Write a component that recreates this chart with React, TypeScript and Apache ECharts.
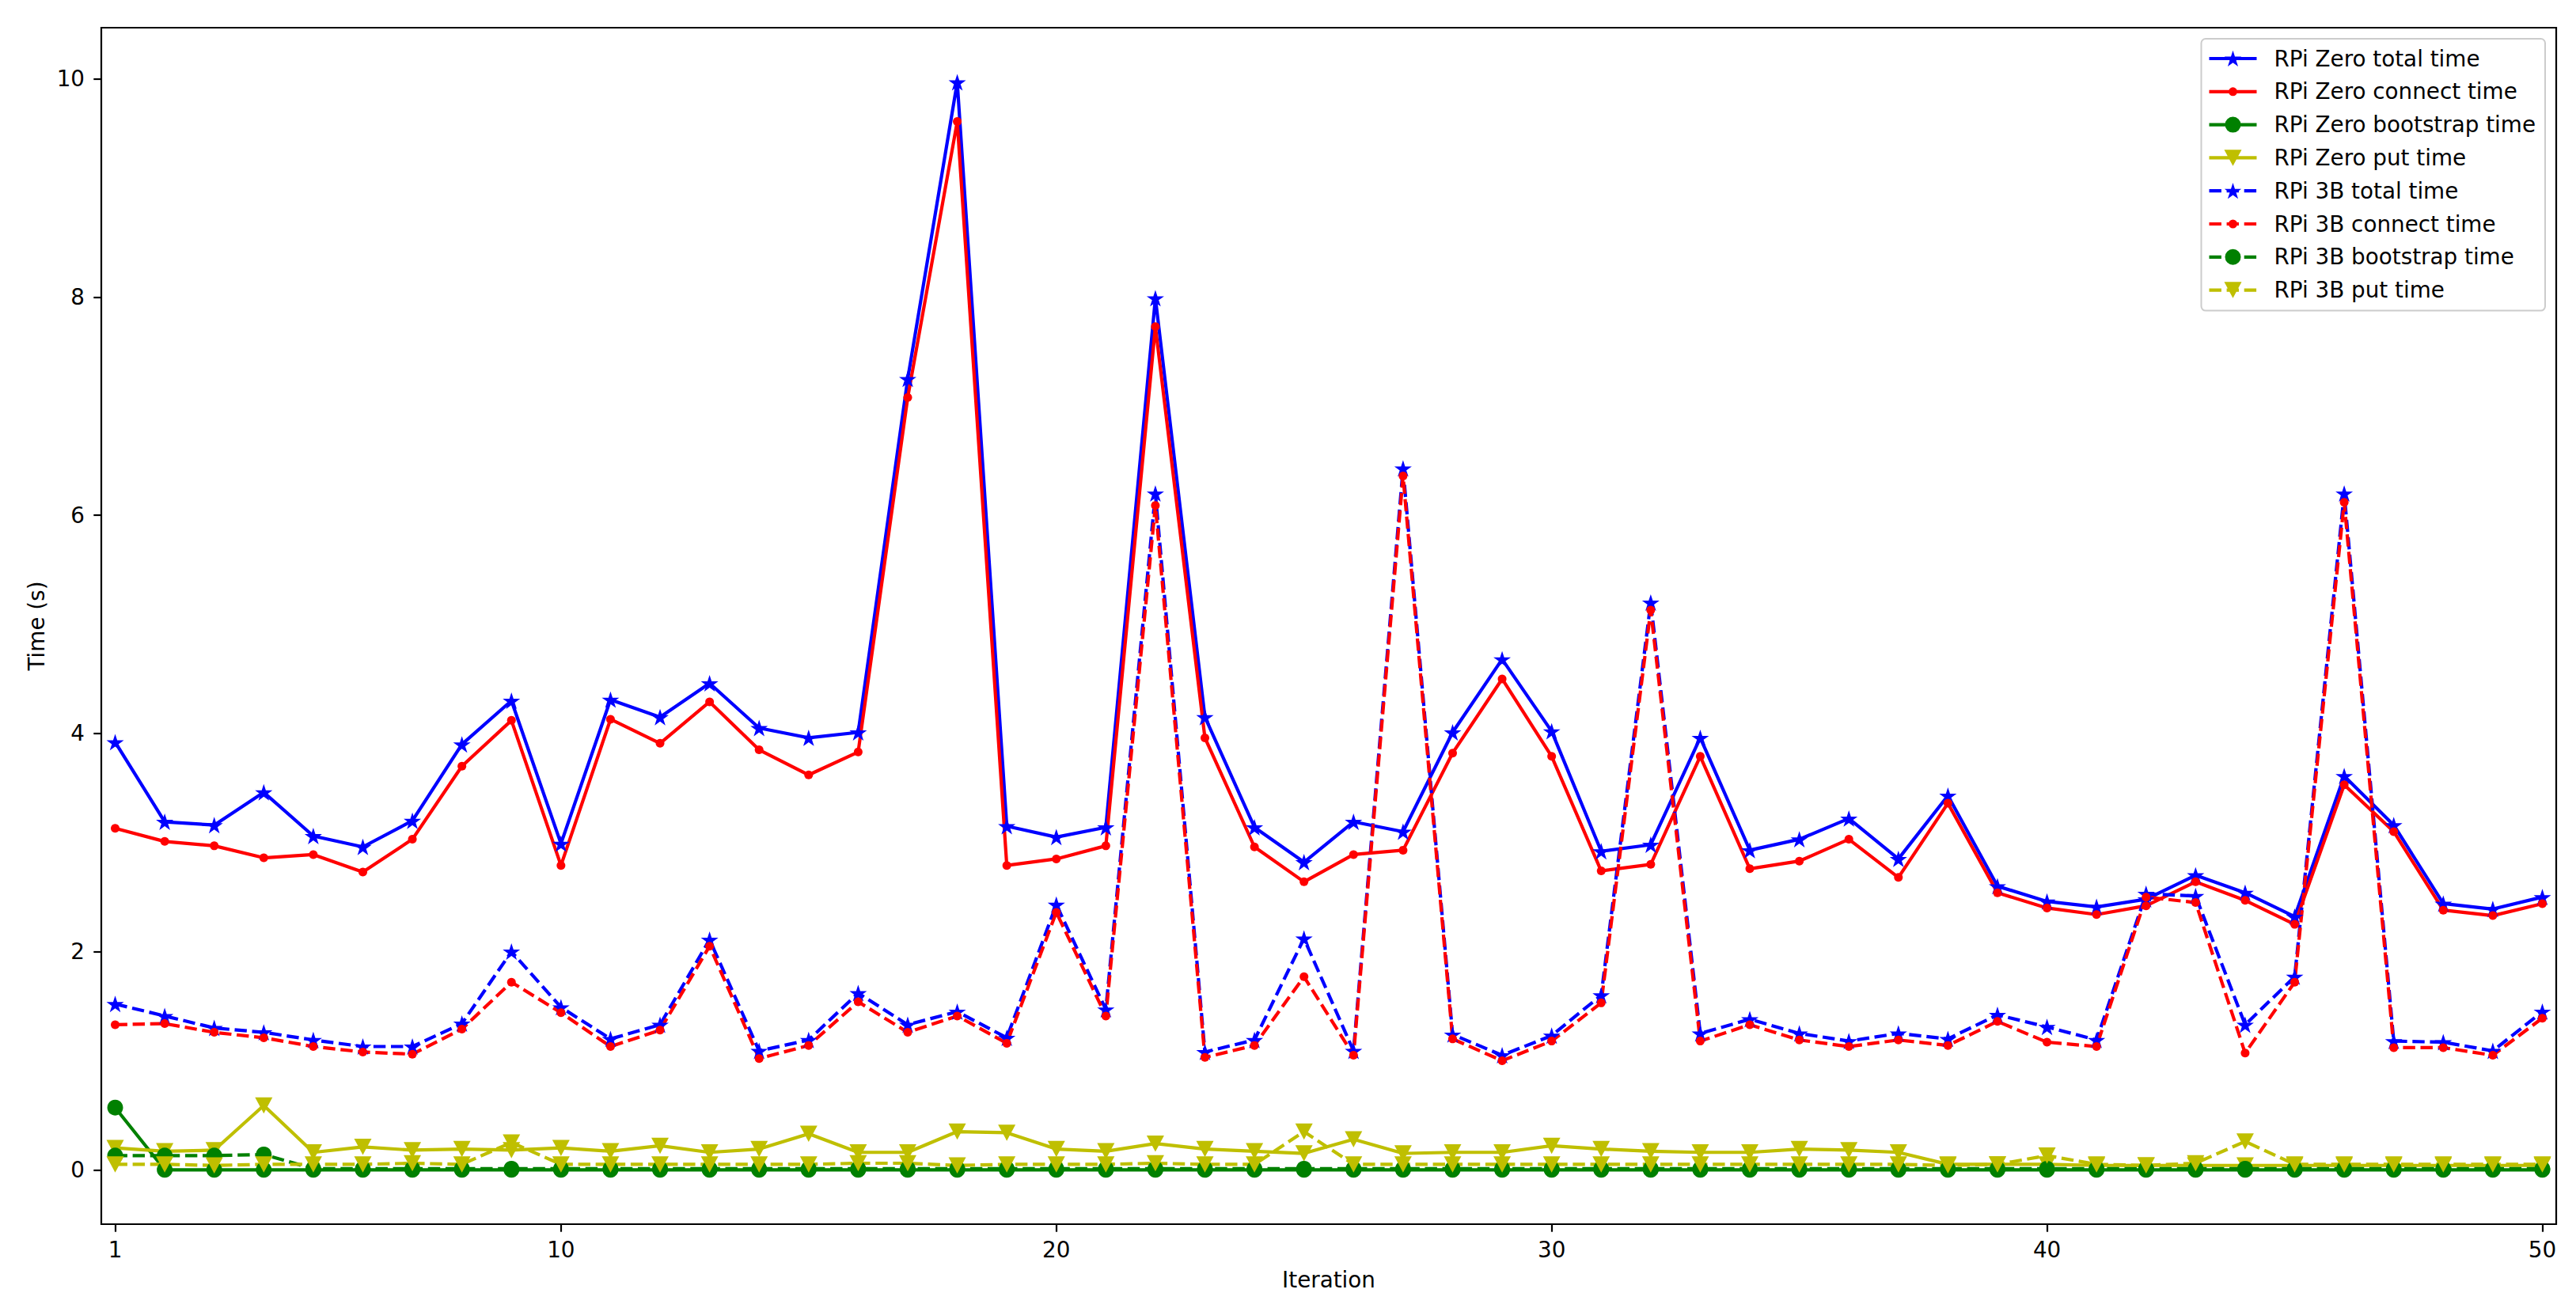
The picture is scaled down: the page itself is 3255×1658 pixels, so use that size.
import React, { useEffect, useRef } from "react";
import * as echarts from "echarts";

// ---------- data ----------
const iterations = [
  1, 2, 3, 4, 5, 6, 7, 8, 9, 10, 11, 12, 13, 14, 15, 16, 17, 18, 19, 20, 21, 22, 23, 24, 25,
  26, 27, 28, 29, 30, 31, 32, 33, 34, 35, 36, 37, 38, 39, 40, 41, 42, 43, 44, 45, 46, 47, 48, 49, 50,
];

const zeroTotal = [
  3.92, 3.19, 3.16, 3.46, 3.06, 2.96, 3.2, 3.9, 4.3, 2.99, 4.31, 4.15, 4.46, 4.05, 3.96, 4.01, 7.25, 9.97, 3.15, 3.05,
  3.14, 7.99, 4.15, 3.14, 2.82, 3.19, 3.1, 4.01, 4.68, 4.02, 2.92, 2.98, 3.96, 2.93, 3.03, 3.22, 2.85, 3.43, 2.6, 2.46,
  2.41, 2.48, 2.7, 2.54, 2.32, 3.61, 3.16, 2.44, 2.39, 2.5,
];
const zeroConnect = [
  3.13, 3.01, 2.97, 2.86, 2.89, 2.73, 3.03, 3.7, 4.12, 2.79, 4.13, 3.91, 4.29, 3.85, 3.62, 3.83, 7.08, 9.61, 2.79, 2.85,
  2.97, 7.73, 3.96, 2.96, 2.64, 2.89, 2.93, 3.82, 4.5, 3.79, 2.74, 2.8, 3.79, 2.76, 2.83, 3.03, 2.68, 3.36, 2.54, 2.4,
  2.34, 2.42, 2.64, 2.47, 2.25, 3.53, 3.1, 2.38, 2.33, 2.44,
];
const zeroBootstrap = [
  0.57, 0, 0, 0, 0, 0, 0, 0, 0, 0, 0, 0, 0, 0, 0, 0, 0, 0, 0, 0, 0, 0, 0, 0, 0, 0, 0, 0, 0, 0, 0, 0, 0, 0, 0, 0, 0, 0,
  0, 0, 0, 0, 0, 0, 0, 0, 0, 0, 0, 0,
];
const zeroPut = [
  0.2, 0.17, 0.18, 0.59, 0.16, 0.21, 0.18, 0.19, 0.18, 0.2, 0.17, 0.22, 0.16, 0.19, 0.33, 0.16, 0.16, 0.35, 0.34, 0.19,
  0.17, 0.24, 0.19, 0.17, 0.15, 0.28, 0.15, 0.16, 0.16, 0.22, 0.19, 0.17, 0.16, 0.16, 0.19, 0.18, 0.16, 0.05, 0.05, 0.05,
  0.04, 0.04, 0.04, 0.04, 0.04, 0.04, 0.04, 0.04, 0.04, 0.04,
];
const b3Total = [
  1.52, 1.41, 1.3, 1.26, 1.19, 1.13, 1.13, 1.34, 2.0, 1.49, 1.2, 1.33, 2.11, 1.09, 1.19, 1.62, 1.33, 1.45, 1.21, 2.43,
  1.47, 6.2, 1.08, 1.19, 2.12, 1.09, 6.43, 1.24, 1.05, 1.23, 1.6, 5.2, 1.25, 1.38, 1.25, 1.18, 1.25, 1.2, 1.42, 1.31,
  1.19, 2.53, 2.51, 1.33, 1.77, 6.2, 1.18, 1.17, 1.09, 1.45,
];
const b3Connect = [
  1.33, 1.34, 1.26, 1.21, 1.13, 1.08, 1.06, 1.29, 1.72, 1.44, 1.13, 1.28, 2.05, 1.02, 1.14, 1.54, 1.26, 1.41, 1.16, 2.36,
  1.41, 6.09, 1.03, 1.14, 1.77, 1.05, 6.36, 1.2, 1.0, 1.18, 1.53, 5.13, 1.18, 1.33, 1.19, 1.13, 1.19, 1.14, 1.36, 1.17,
  1.13, 2.5, 2.45, 1.07, 1.72, 6.12, 1.12, 1.12, 1.05, 1.39,
];
const b3Bootstrap = [
  0.13, 0.13, 0.13, 0.14, 0.01, 0.01, 0.01, 0.01, 0.01, 0.01, 0.01, 0.01, 0.01, 0.01, 0.01, 0.01, 0.01, 0.01, 0.01, 0.01,
  0.01, 0.01, 0.01, 0.01, 0.01, 0.01, 0.01, 0.01, 0.01, 0.01, 0.01, 0.01, 0.01, 0.01, 0.01, 0.01, 0.01, 0.01, 0.01, 0.01,
  0.01, 0.01, 0.01, 0.01, 0.01, 0.01, 0.01, 0.01, 0.01, 0.01,
];
const b3Put = [
  0.05, 0.05, 0.04, 0.05, 0.05, 0.05, 0.06, 0.05, 0.25, 0.05, 0.05, 0.05, 0.05, 0.05, 0.05, 0.06, 0.06, 0.04, 0.05, 0.05,
  0.05, 0.06, 0.05, 0.05, 0.35, 0.05, 0.05, 0.05, 0.05, 0.05, 0.05, 0.05, 0.05, 0.05, 0.05, 0.05, 0.05, 0.04, 0.05, 0.13,
  0.05, 0.04, 0.06, 0.26, 0.05, 0.05, 0.05, 0.05, 0.05, 0.05,
];

const xTicks = [1, 10, 20, 30, 40, 50];
const yTicks = [0, 2, 4, 6, 8, 10];

const seriesNames = [
  "RPi Zero total time",
  "RPi Zero connect time",
  "RPi Zero bootstrap time",
  "RPi Zero put time",
  "RPi 3B total time",
  "RPi 3B connect time",
  "RPi 3B bootstrap time",
  "RPi 3B put time",
];
const seriesValues = [zeroTotal, zeroConnect, zeroBootstrap, zeroPut, b3Total, b3Connect, b3Bootstrap, b3Put];

// ---------- styling ----------
const COLORS = ["#0000ff", "#ff0000", "#008000", "#bfbf00", "#0000ff", "#ff0000", "#008000", "#bfbf00"];
const MARKERS = ["star", "dot", "circle", "tri", "star", "dot", "circle", "tri"];
const DASHED = [false, false, false, false, true, true, true, true];

const FONT = "DejaVu Sans";
const FS = 27.8;
const LW = 4.2;
const DASH = [15.4, 6.7];

const starPts = [
  [0, -1], [0.2245, -0.309], [0.9511, -0.309], [0.3633, 0.118], [0.5878, 0.809],
  [0, 0.382], [-0.5878, 0.809], [-0.3633, 0.118], [-0.9511, -0.309], [-0.2245, -0.309],
];
const STAR = "path://M" + starPts.map((p) => p.join(",")).join("L") + "Z";
const TRI = "path://M-1,-1L1,-1L0,1Z";

function seriesSymbol(m: string) {
  if (m === "star") return { symbol: STAR, symbolSize: 22 };
  if (m === "dot") return { symbol: "circle", symbolSize: 11 };
  if (m === "circle") return { symbol: "circle", symbolSize: 20 };
  return { symbol: TRI, symbolSize: [22, 20.5] };
}

const IW = 77;
const IH = 23;
const LINE_END = 60;
function legendIcon(m: string, dashed: boolean) {
  const cx = LINE_END / 2;
  const cy = IH / 2;
  const segs = dashed ? [[0, 15.4], [22.1, 37.5], [44.2, 59.6]] : [[0, LINE_END]];
  let d = "M0,0L0,0M" + IW + "," + IH + "L" + IW + "," + IH;
  const t = cy - LW / 2;
  const b = cy + LW / 2;
  for (const [a, e] of segs) d += `M${a},${t}L${e},${t}L${e},${b}L${a},${b}Z`;
  if (m === "star") {
    const R = 11.2;
    d += "M" + starPts.map((p) => `${(cx + p[0] * R).toFixed(2)},${(cy + 0.095 * R + p[1] * R).toFixed(2)}`).join("L") + "Z";
  } else if (m === "dot" || m === "circle") {
    const r = m === "dot" ? 5.5 : 10;
    d += `M${cx - r},${cy}A${r},${r} 0 1,1 ${cx + r},${cy}A${r},${r} 0 1,1 ${cx - r},${cy}Z`;
  } else {
    const w = 22, h = 20.5;
    d += `M${cx - w / 2},${cy - h / 2}L${cx + w / 2},${cy - h / 2}L${cx},${cy + h / 2}Z`;
  }
  return "path://" + d;
}

export default function App() {
  const ref = useRef<HTMLDivElement>(null);

  useEffect(() => {
    if (!ref.current) return;
    const chart = echarts.init(ref.current, undefined, { renderer: "svg" });

    const series = seriesNames.map((name, i) => ({
      name,
      type: "line",
      data: iterations.map((x, j) => [x, seriesValues[i][j]]),
      ...seriesSymbol(MARKERS[i]),
      symbolKeepAspect: true,
      showSymbol: true,
      showAllSymbol: true,
      lineStyle: { color: COLORS[i], width: LW, type: DASHED[i] ? DASH : "solid", cap: "butt", join: "round" },
      itemStyle: { color: COLORS[i], borderWidth: 0 },
      emphasis: { disabled: true },
      z: 2,
    }));

    const axisLabelStyle = { color: "#000", fontSize: FS, fontFamily: FONT };

    chart.setOption({
      animation: false,
      backgroundColor: "#ffffff",
      textStyle: { fontFamily: FONT },
      grid: {
        show: true,
        left: 128,
        right: 25,
        top: 35,
        bottom: 111,
        borderColor: "#000",
        borderWidth: 2.2,
        backgroundColor: "#fff",
        containLabel: false,
      },
      legend: {
        show: true,
        orient: "vertical",
        right: 39,
        top: 49,
        padding: [10, 12, 11, 10],
        itemWidth: IW,
        itemHeight: IH,
        itemGap: 11.8,
        backgroundColor: "rgba(255,255,255,0.8)",
        borderColor: "#cccccc",
        borderWidth: 2,
        borderRadius: 5.5,
        selectedMode: false,
        itemStyle: { borderWidth: 0 },
        textStyle: { color: "#000", fontSize: FS, fontFamily: FONT, lineHeight: 30 },
        data: seriesNames.map((name, i) => ({
          name,
          icon: legendIcon(MARKERS[i], DASHED[i]),
          itemStyle: { color: COLORS[i], borderWidth: 0 },
        })),
      },
      xAxis: {
        type: "value",
        min: 0.72,
        max: 50.28,
        position: "bottom",
        name: "Iteration",
        nameLocation: "middle",
        nameGap: 56,
        nameTextStyle: { color: "#000", fontSize: FS, fontFamily: FONT },
        axisLine: { show: false, onZero: false },
        axisTick: { show: true, length: 9.7, customValues: xTicks, lineStyle: { color: "#000", width: 2.2 } },
        axisLabel: { show: true, customValues: xTicks, margin: 18, ...axisLabelStyle },
        splitLine: { show: false },
      },
      yAxis: {
        type: "value",
        min: -0.4985,
        max: 10.47,
        position: "left",
        name: "Time (s)",
        nameLocation: "middle",
        nameRotate: 90,
        nameGap: 68,
        nameTextStyle: { color: "#000", fontSize: FS, fontFamily: FONT },
        axisLine: { show: false, onZero: false },
        axisTick: { show: true, length: 9.7, customValues: yTicks, lineStyle: { color: "#000", width: 2.2 } },
        axisLabel: { show: true, customValues: yTicks, margin: 21, ...axisLabelStyle },
        splitLine: { show: false },
      },
      series,
    });

    return () => chart.dispose();
  }, []);

  return (
    <div
      ref={ref}
      style={{ position: "absolute", left: 0, top: 0, width: 3255, height: 1658, background: "#fff" }}
    />
  );
}
